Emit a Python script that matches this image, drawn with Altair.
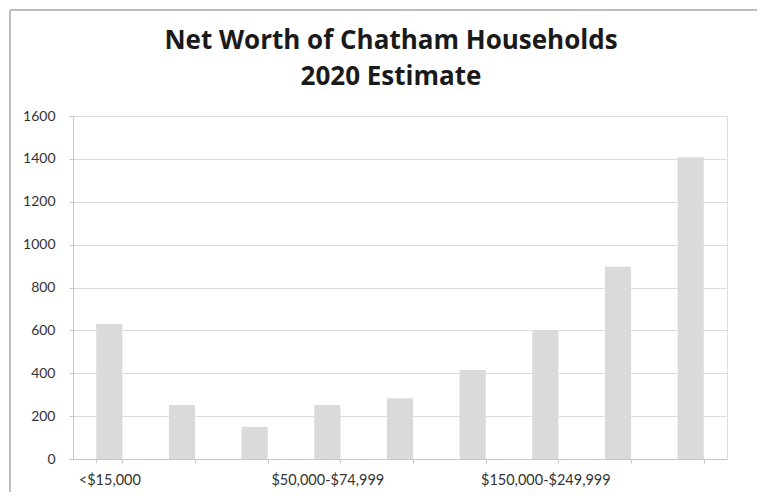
import altair as alt
import pandas as pd

categories = ["<$15,000", "$15,000-$34,999", "$35,000-$49,999", "$50,000-$74,999",
              "$75,000-$99,999", "$100,000-$149,999", "$150,000-$249,999",
              "$250,000-$499,999", "$500,000+"]
households = [630, 252, 150, 252, 283, 415, 600, 897, 1408]
shown_labels = ["<$15,000", "$50,000-$74,999", "$150,000-$249,999"]

df = pd.DataFrame({"cat": categories, "val": households})

FONT = "Lato"
label_expr = "indexof(" + str(shown_labels) + ", datum.label) >= 0 ? datum.label : ''"

bars = alt.Chart(df).mark_bar(color="#dadada").encode(
    x=alt.X("cat:N", sort=categories,
            scale=alt.Scale(paddingInner=0.64, paddingOuter=0.32),
            axis=alt.Axis(title=None, labelAngle=0, labelExpr=label_expr,
                          labelFont=FONT, labelFontSize=14.5, labelColor="#333333",
                          labelPadding=10, tickBand="extent", tickSize=4,
                          tickColor="#c8c8c8", domainColor="#c8c8c8",
                          labelOverlap=False)),
    y=alt.Y("val:Q", scale=alt.Scale(domain=[0, 1600], nice=False),
            axis=alt.Axis(title=None, values=list(range(0, 1601, 200)), format="d",
                          labelFont=FONT, labelFontSize=14, labelColor="#333333",
                          labelPadding=14, tickSize=4, tickColor="#c8c8c8",
                          domainColor="#c8c8c8", gridColor="#dcdcdc")),
)

frame_top = alt.Chart(df).mark_rule(color="#bdbdbd", strokeWidth=1).encode(
    x=alt.value(-63), x2=alt.value(684), y=alt.value(-106))
frame_left = alt.Chart(df).mark_rule(color="#bdbdbd", strokeWidth=1).encode(
    x=alt.value(-63), y=alt.value(-106), y2=alt.value(376))

chart = alt.layer(bars, frame_top, frame_left).properties(
    width=654, height=343,
    title=alt.TitleParams(["Net Worth of Chatham Households", "2020 Estimate"],
                          font="Open Sans", fontSize=26, fontWeight="bold", color="#1a1a1a",
                          anchor="middle", frame="group", offset=-80, lineHeight=36, dx=-9),
    autosize=alt.AutoSizeParams(type="none"),
    padding={"left": 73, "top": 116, "right": 40, "bottom": 37},
).configure_view(stroke=None).configure(background="white")

chart.save("out.html", embed_options={"renderer": "svg", "actions": False})
